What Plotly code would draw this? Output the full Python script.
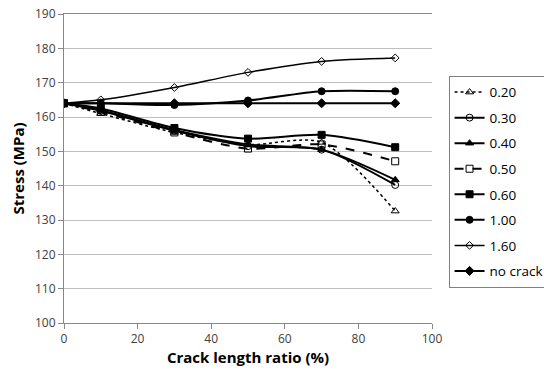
import plotly.graph_objects as go

x = [0, 10, 30, 50, 70, 90]
names = ["0.20", "0.30", "0.40", "0.50", "0.60", "1.00", "1.60", "no crack"]
s020 = [164, 161.0, 155.5, 152.0, 152.6, 132.6]
s030 = [164, 161.8, 156.0, 151.5, 150.5, 140.2]
s040 = [164, 162.0, 156.2, 152.0, 150.5, 141.7]
s050 = [164, 161.5, 155.5, 150.8, 152.0, 147.1]
s060 = [164, 162.5, 156.8, 153.7, 154.8, 151.2]
s100 = [164, 164.0, 163.5, 164.8, 167.5, 167.5]
s160 = [164, 165.0, 168.6, 173.0, 176.2, 177.2]
snoc = [164, 164, 164, 164, 164, 164]
series = [s020, s030, s040, s050, s060, s100, s160, snoc]

styles = [
    dict(dash="dot", width=1.5, symbol="triangle-up-open", msize=7),
    dict(dash="solid", width=2, symbol="circle-open", msize=7),
    dict(dash="solid", width=2, symbol="triangle-up", msize=7),
    dict(dash="dash", width=2, symbol="square-open", msize=7),
    dict(dash="solid", width=2, symbol="square", msize=7),
    dict(dash="solid", width=2, symbol="circle", msize=7),
    dict(dash="solid", width=1.5, symbol="diamond-open", msize=6),
    dict(dash="solid", width=2, symbol="diamond", msize=7),
]

fig = go.Figure()
for n, ys, st in zip(names, series, styles):
    fig.add_trace(go.Scatter(
        x=x, y=ys, name=n, mode="lines+markers", legendgroup=n,
        line=dict(color="black", width=st["width"], dash=st["dash"], shape="spline", smoothing=0.8),
        marker=dict(symbol=st["symbol"], size=st["msize"], color="black",
                    line=dict(color="black", width=1)),
    ))

fig.update_layout(
    width=544, height=373,
    margin=dict(l=64, r=112, t=14, b=50, autoexpand=False),
    plot_bgcolor="white", paper_bgcolor="white",
    font=dict(family="Open Sans, Liberation Sans, sans-serif", color="#404040"),
    legend=dict(x=1.045, y=0.80, xanchor="left", yanchor="top",
                bordercolor="#808080", borderwidth=1,
                font=dict(size=13.5, color="black"), itemwidth=30,
                tracegroupgap=5),
    xaxis=dict(range=[0, 100], dtick=20, showgrid=False,
               showline=True, linecolor="#888888", linewidth=1, mirror=True,
               ticks="outside", ticklen=5, tickcolor="#888888",
               tickfont=dict(size=12, color="#404040"), zeroline=False,
               title=dict(text="<b>Crack length ratio (%)</b>", font=dict(size=15, color="black"), standoff=6)),
    yaxis=dict(range=[100, 190], dtick=10, showgrid=True, gridcolor="#bfbfbf",
               showline=True, linecolor="#888888", linewidth=1,
               ticks="outside", ticklen=5, tickcolor="#888888",
               tickfont=dict(size=12, color="#404040"), zeroline=False,
               title=dict(text="<b>Stress (MPa)</b>", font=dict(size=15, color="black"), standoff=6)),
)

fig.write_html("out.html")
